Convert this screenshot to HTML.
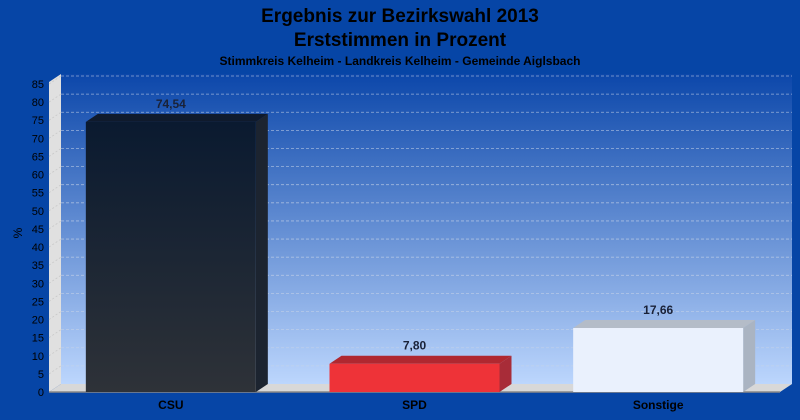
<!DOCTYPE html>
<html><head><meta charset="utf-8"><style>
body{margin:0;background:#0645a6;}
svg{display:block;font-family:"Liberation Sans",sans-serif;}
</style></head><body>
<svg width="800" height="420" viewBox="0 0 800 420">
<defs>
<linearGradient id="bg" x1="0" y1="0" x2="0" y2="1"><stop offset="0" stop-color="#0c47aa"/><stop offset="1" stop-color="#bcd6fd"/></linearGradient>
<linearGradient id="csu" x1="0" y1="0" x2="0" y2="1"><stop offset="0" stop-color="#0a1a30"/><stop offset="1" stop-color="#2e3238"/></linearGradient>
</defs>
<rect width="800" height="420" fill="#0645a6"/>
<text x="400" y="22" text-anchor="middle" font-size="19" font-weight="bold" fill="#000">Ergebnis zur Bezirkswahl 2013</text>
<text x="400" y="46" text-anchor="middle" font-size="19" font-weight="bold" fill="#000">Erststimmen in Prozent</text>
<text x="400" y="65" text-anchor="middle" font-size="12" font-weight="bold" fill="#000">Stimmkreis Kelheim - Landkreis Kelheim - Gemeinde Aiglsbach</text>
<g id="plot"></g>
</svg>
<script>
const categories=["CSU","SPD","Sonstige"];
const values=[74.54,7.80,17.66];
const labels=["74,54","7,80","17,66"];
const ticks=[0,5,10,15,20,25,30,35,40,45,50,55,60,65,70,75,80,85];
const NS="http://www.w3.org/2000/svg";
const g=document.getElementById("plot");
const X0=49,X1=780,Y0=392,DX=12,DY=8;
const y=v=>Y0-v*(308/85);
const colors=[["url(#csu)","#0f1a2c","#1c2430"],["#ee3338","#b02830","#a82c38"],["#eaf1fd","#b4bcc8","#aab4c2"]];
function el(t,a,p){const e=document.createElementNS(NS,t);for(const k in a)e.setAttribute(k,a[k]);(p||g).appendChild(e);return e;}
let e;
const WT=y(85)-DY-2;
e=el("rect",{x:X0+DX,y:WT,width:X1-X0,height:Y0-DY-WT,fill:"url(#bg)"});


e=el("polygon",{points:`${X0},${WT+DY} ${X0+DX},${WT} ${X0+DX},${Y0-DY} ${X0},${Y0}`,fill:"#e0e0e0"});


e=el("polygon",{points:`${X0},${Y0} ${X0+DX},${Y0-DY} ${X1+DX},${Y0-DY} ${X1},${Y0}`,fill:"#d8d8d8"});


e=el("line",{x1:X0,y1:Y0,x2:X1,y2:Y0,stroke:"#888","stroke-width":1.5});


ticks.forEach(t=>{
 if(t>0){e=el("line",{x1:X0+DX,y1:y(t)-DY,x2:X1+DX,y2:y(t)-DY,stroke:"#c8d4e8","stroke-dasharray":"3,2","stroke-width":0.8,opacity:0.7});
 
 
 e=el("line",{x1:X0,y1:y(t),x2:X0+DX,y2:y(t)-DY,stroke:"#c8c8c8","stroke-dasharray":"2,2","stroke-width":0.8});
 
 }
 e=el("text",{x:X0-5,y:y(t)+4,"text-anchor":"end","font-size":11,fill:"#000"});
 e.textContent=t;
 
 
});
e=el("text",{x:22,y:233,"text-anchor":"middle","font-size":12,transform:"rotate(-90 22 233)"});
e.textContent="%";


const slot=(X1-X0)/categories.length,bw=170;
categories.forEach((c,i)=>{
 const bx=X0+slot*i+(slot-bw)/2,top=y(values[i]);
 const [f,tf,sf]=colors[i];
 e=el("polygon",{points:`${bx+bw},${top} ${bx+bw+DX},${top-DY} ${bx+bw+DX},${Y0-DY} ${bx+bw},${Y0}`,fill:sf});
 
 
 e=el("polygon",{points:`${bx},${top} ${bx+DX},${top-DY} ${bx+bw+DX},${top-DY} ${bx+bw},${top}`,fill:tf});
 
 
 e=el("rect",{x:bx,y:top,width:bw,height:Y0-top,fill:f});
 
 
 e=el("text",{x:bx+bw/2,y:top-DY-6,"text-anchor":"middle","font-size":12,"font-weight":"bold",fill:"#1a2238"});
 e.textContent=labels[i];
 
 
 e=el("text",{x:bx+bw/2,y:409,"text-anchor":"middle","font-size":12,"font-weight":"bold",fill:"#000"});
 e.textContent=c;
 
 
});
</script>
</body></html>
